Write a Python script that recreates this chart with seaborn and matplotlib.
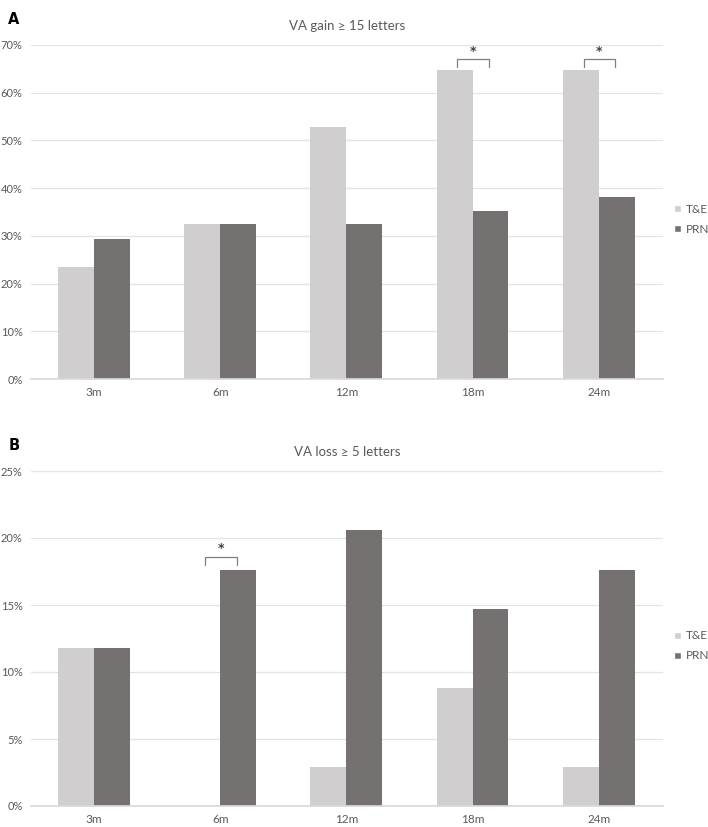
import matplotlib
matplotlib.use('Agg')
import matplotlib.pyplot as plt
import matplotlib.ticker as mticker
from matplotlib.patches import Patch
import seaborn as sns
import pandas as pd

sns.set_theme(style='white')
plt.rcParams['font.family'] = ['Lato', 'DejaVu Sans']

timepoints = ['3m', '6m', '12m', '18m', '24m']
groups = ['T&E', 'PRN']
gain_te = [23.5, 32.4, 52.9, 64.7, 64.7]
gain_prn = [29.4, 32.4, 32.4, 35.3, 38.2]
loss_te = [11.8, 0.0, 2.9, 8.8, 2.9]
loss_prn = [11.8, 17.6, 20.6, 14.7, 17.6]
gain_sig = ['18m', '24m']
loss_sig = ['6m']

COLORS = {'T&E': '#D0CECE', 'PRN': '#767171'}
TXT = '#595959'
GRID = '#E4E4E4'


def tidy(te, prn):
    return pd.DataFrame({
        'time': timepoints * 2,
        'group': ['T&E'] * len(te) + ['PRN'] * len(prn),
        'value': te + prn,
    })


def panel(ax, df, title, letter, ymax, step, sig, sig_y):
    sns.barplot(data=df, x='time', y='value', hue='group', order=timepoints,
                hue_order=groups, palette=COLORS, width=0.57, gap=0,
                saturation=1, linewidth=0, ax=ax, legend=False)
    ax.set_xlim(-0.5, 4.51)
    ax.set_ylim(0, ymax)
    ax.yaxis.set_major_locator(mticker.MultipleLocator(step))
    ax.yaxis.set_major_formatter(mticker.FuncFormatter(lambda v, p: f'{v:.0f}%'))
    ax.grid(axis='y', color=GRID, linewidth=0.9)
    ax.set_axisbelow(True)
    for s in ['top', 'right', 'left']:
        ax.spines[s].set_visible(False)
    ax.spines['bottom'].set_color('#D9D9D9')
    ax.tick_params(axis='y', length=0, labelsize=8, colors=TXT, pad=6)
    ax.tick_params(axis='x', length=0, labelsize=8.5, colors=TXT, pad=6)
    ax.set_xlabel(''); ax.set_ylabel('')
    ax.set_title(title, fontsize=9.5, color=TXT, pad=11)
    ax.text(-0.036, 1.075, letter, transform=ax.transAxes, fontsize=10.5,
            fontweight='bold', color='black', family='DejaVu Sans', va='center')
    # significance brackets
    for t in sig:
        i = timepoints.index(t)
        x0, x1 = i - 0.12, i + 0.13
        leg = ymax * 0.025
        ax.plot([x0, x0, x1, x1], [sig_y - leg, sig_y, sig_y, sig_y - leg],
                color='#7F7F7F', linewidth=0.9)
        ax.text((x0 + x1) / 2, sig_y + ymax * 0.004, '*', ha='center', va='bottom',
                fontsize=9, fontweight='bold', color='#404040', family='DejaVu Sans')
    handles = [Patch(facecolor=COLORS[g], label=g) for g in groups]
    lg = ax.legend(handles=handles, loc='center left', bbox_to_anchor=(1.018, 0.478),
                   frameon=False, fontsize=8.5, handlelength=0.55, handleheight=0.55,
                   handletextpad=0.4, labelspacing=0.75, borderaxespad=0, borderpad=0)
    for t in lg.get_texts():
        t.set_color(TXT)


fig = plt.figure(figsize=(7.08, 8.27), dpi=100)
ax1 = fig.add_axes([31 / 708, 448 / 827, 632 / 708, 334 / 827])
ax2 = fig.add_axes([31 / 708, 21 / 827, 632 / 708, 335 / 827])

panel(ax1, tidy(gain_te, gain_prn), 'VA gain ≥ 15 letters', 'A', 70, 10,
      gain_sig, 67.1)
panel(ax2, tidy(loss_te, loss_prn), 'VA loss ≥ 5 letters', 'B', 25, 5,
      loss_sig, 18.6)

fig.savefig('out.png', dpi=100)
